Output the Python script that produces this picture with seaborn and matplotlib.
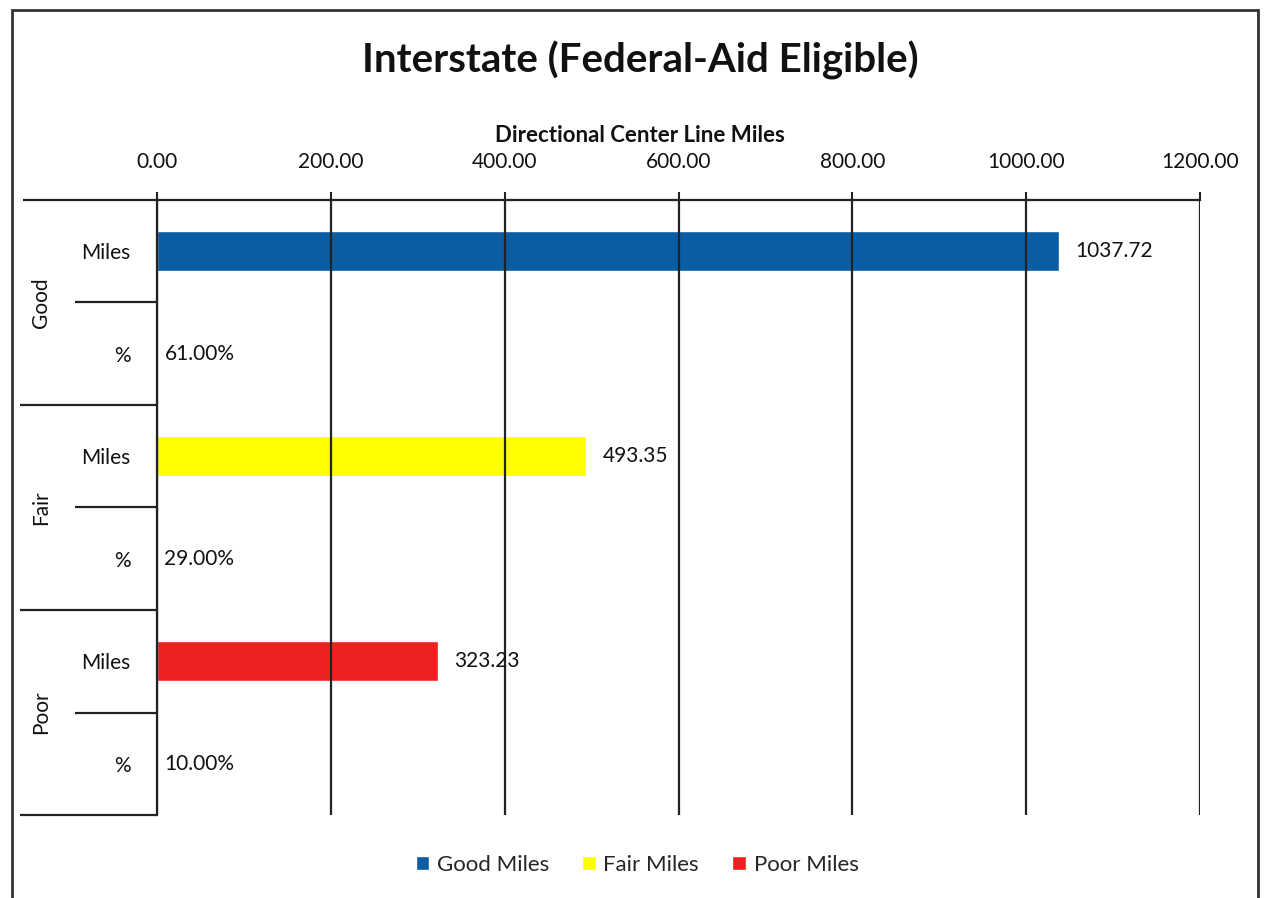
import matplotlib
matplotlib.use("Agg")
import matplotlib.pyplot as plt
import matplotlib.transforms as mtransforms
from matplotlib.patches import Rectangle
import pandas as pd
import seaborn as sns

# Pavement condition data
conditions = ["Good", "Fair", "Poor"]
miles = [1037.72, 493.35, 323.23]
percents = [61.00, 29.00, 10.00]
row_kinds = ["Miles", "%"]
series_names = ["Good Miles", "Fair Miles", "Poor Miles"]
colors = ["#0A5CA3", "#FFFF00", "#EE2020"]
x_ticks = [0, 200, 400, 600, 800, 1000, 1200]

rows = []
for cond, name, m, p in zip(conditions, series_names, miles, percents):
    rows.append({"row": f"{cond} Miles", "series": name, "value": m,
                 "label": f"{m:.2f}", "kind": "Miles"})
    rows.append({"row": f"{cond} %", "series": name, "value": p / 100,
                 "label": f"{p:.2f}%", "kind": "%"})
df = pd.DataFrame(rows)

sns.set_theme(style="white")
plt.rcParams["font.family"] = ["Lato", "DejaVu Sans"]

fig = plt.figure(figsize=(12.7, 8.98), dpi=100)
ax = fig.add_axes([157 / 1270, 1 - 815 / 898, (1200 - 157) / 1270, (815 - 200) / 898])

sns.barplot(data=df, x="value", y="row", hue="series", palette=colors,
            dodge=False, orient="h", width=0.39, ax=ax, legend=True,
            saturation=1)

ax.set_xlim(0, 1200)
ax.set_ylim(len(df) - 0.5, -0.5)
ax.set_xticks(x_ticks)
ax.set_xticklabels([f"{t:.2f}" for t in x_ticks])
ax.xaxis.tick_top()
ax.xaxis.set_label_position("top")
ax.set_xlabel("Directional Center Line Miles", fontsize=16, fontweight="bold",
              labelpad=10, color="#111111")
ax.xaxis.set_label_coords((640 - 157) / 1043, 1 + 58 / 615)
ax.set_ylabel("")
ax.tick_params(axis="x", which="major", direction="out", length=6, width=1.5,
               color="#222222", labelsize=15, pad=14, labelcolor="#111111")
ax.set_yticks(range(len(df)))
ax.set_yticklabels(df["kind"])
ax.tick_params(axis="y", length=0, labelsize=15, pad=19, labelcolor="#111111")

ax.grid(axis="x", color="#222222", linewidth=1.6)
ax.set_axisbelow(False)
for side in ["right", "bottom"]:
    ax.spines[side].set_visible(False)
for side in ["left", "top"]:
    ax.spines[side].set_color("#222222")
    ax.spines[side].set_linewidth(1.6)

# Value labels next to each bar end
for i, r in df.iterrows():
    pad = 12 if r["kind"] == "Miles" else 5
    ax.annotate(r["label"], xy=(r["value"], i), xytext=(pad, 0),
                textcoords="offset points", va="center", ha="left",
                fontsize=15, color="#111111")

# Row and group separators on the category axis
trans = mtransforms.blended_transform_factory(ax.transAxes, ax.transData)
for g in range(len(conditions) + 1):
    y = 2 * g - 0.5
    x0 = -0.131 if g > 0 else -0.128
    ax.plot([x0, 0], [y, y], transform=trans, color="#222222", lw=1.6,
            clip_on=False, solid_capstyle="butt")
for g in range(len(conditions)):
    y = 2 * g + 0.5
    ax.plot([-0.079, 0], [y, y], transform=trans, color="#222222", lw=1.6,
            clip_on=False, solid_capstyle="butt")
    ax.text(-0.111, 2 * g + 0.5, conditions[g], transform=trans, rotation=90,
            ha="center", va="center", fontsize=15, color="#111111")

# Legend beneath the plot
handles, labels = ax.get_legend_handles_labels()
ax.get_legend().remove()
fig.legend(handles, labels, loc="center", bbox_to_anchor=(637 / 1270, 1 - 865 / 898),
           ncol=3, frameon=False, fontsize=16, handlelength=0.6, handleheight=0.6,
           handletextpad=0.35, columnspacing=1.5)

fig.suptitle("Interstate (Federal-Aid Eligible)", x=640 / 1270, y=1 - 60 / 898,
             va="center", fontsize=29, fontweight="bold", color="#111111")

# Chart area border
fig.add_artist(Rectangle((12 / 1270, -0.05), (1258 - 12) / 1270, 1 - 10 / 898 + 0.05,
                         transform=fig.transFigure, fill=False,
                         edgecolor="#333333", linewidth=2))

fig.savefig("out.png", dpi=100, facecolor="white")
